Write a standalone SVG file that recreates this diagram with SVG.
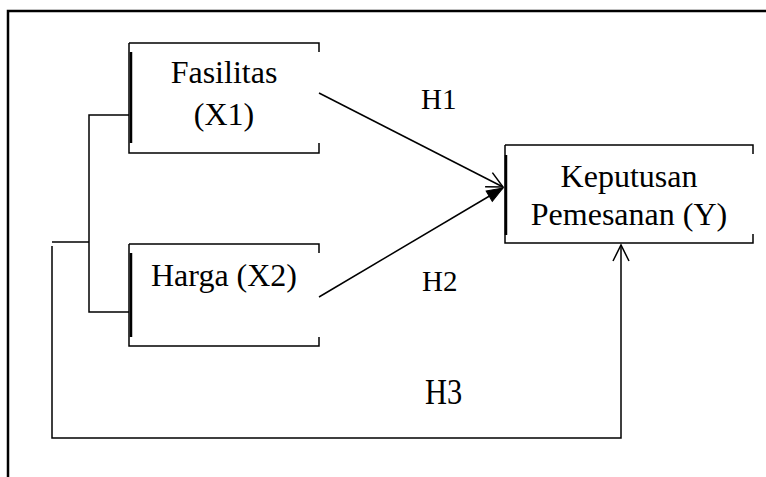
<svg xmlns="http://www.w3.org/2000/svg" width="766" height="477" viewBox="0 0 766 477">
<style>
.ln{fill:none;stroke:#000;stroke-width:1.5}
.thk{fill:none;stroke:#000;stroke-width:2.5}
.tx{font-family:"Liberation Serif","Times New Roman",serif;font-size:32px;fill:#000}
.hx{font-family:"Liberation Serif","Times New Roman",serif;font-size:29px;fill:#000}
</style>
<defs>
<marker id="open" viewBox="0 0 20 20" refX="18" refY="10" markerWidth="20" markerHeight="20" markerUnits="userSpaceOnUse" orient="auto">
<path d="M2,2 L18,10 L2,18" fill="none" stroke="#000" stroke-width="1.5"/>
</marker>
<marker id="solid" viewBox="0 0 20 20" refX="18" refY="10" markerWidth="20" markerHeight="20" markerUnits="userSpaceOnUse" orient="auto">
<path d="M2,4 L18,10 L2,16 Z" fill="#000" stroke="#000" stroke-width="1"/>
</marker>
</defs>
<rect width="766" height="477" fill="#fff"/>
<g id="frame">
<path class="thk" d="M8,477 L8,11 L766,11"/>
</g>
<g id="fasilitas">
<path class="ln" d="M129,43 L319,43 L319,52 M319,143 L319,153 L129,153 L129,43"/>
<path class="thk" d="M131,52 L131,143"/>
<text class="tx" x="224" y="83" text-anchor="middle">Fasilitas</text>
<text class="tx" x="224" y="125" text-anchor="middle">(X1)</text>
</g>
<g id="harga">
<path class="ln" d="M129,244 L319,244 L319,253 M319,337 L319,346 L129,346 L129,244"/>
<path class="thk" d="M131,253 L131,337"/>
<text class="tx" x="224" y="286" text-anchor="middle">Harga (X2)</text>
</g>
<g id="keputusan">
<path class="ln" d="M505,145 L753,145 L753,154 M753,234 L753,243 L505,243 L505,145"/>
<path class="thk" d="M506,155 L506,235"/>
<text class="tx" x="629" y="187" text-anchor="middle">Keputusan</text>
<text class="tx" x="629" y="225" text-anchor="middle">Pemesanan (Y)</text>
</g>
<g id="connectors">
<path class="ln" d="M129,115 L89,115 L89,312 L129,312"/>
<path class="ln" d="M52,242 L89,242"/>
<path class="ln" d="M52,246 L52,438 L621,438 L621,245" marker-end="url(#open)"/>
<path class="ln" d="M319,93 L503,187" marker-end="url(#open)"/>
<path class="ln" d="M319,297 L503,188" marker-end="url(#solid)"/>
<text class="hx" x="421" y="109">H1</text>
<text class="hx" x="422" y="291">H2</text>
<text class="hx" x="425" y="404" transform="translate(425 404) scale(1.05 1.25) translate(-425 -404)">H3</text>
</g>
</svg>
